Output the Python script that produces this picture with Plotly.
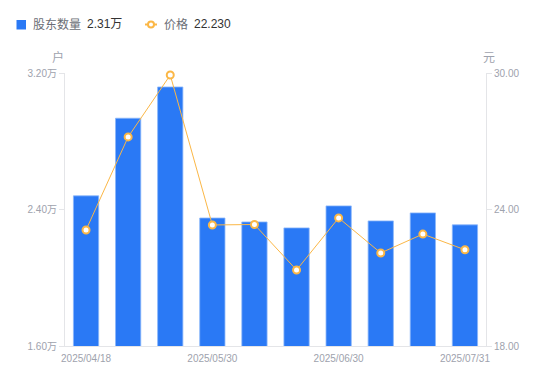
import plotly.graph_objects as go

dates = ["2025/04/18", "2025/04/30", "2025/05/20", "2025/05/30", "2025/06/10",
         "2025/06/20", "2025/06/30", "2025/07/10", "2025/07/20", "2025/07/31"]
holders_wan = [2.48, 2.935, 3.118, 2.35, 2.327, 2.292, 2.421, 2.333, 2.38, 2.31]
price = [23.10, 27.19, 29.91, 23.32, 23.34, 21.34, 23.63, 22.09, 22.92, 22.23]
shown_dates = ["2025/04/18", "2025/05/30", "2025/06/30", "2025/07/31"]
left_ticks = [1.6, 2.4, 3.2]
right_ticks = [18, 24, 30]
series_names = ["股东数量", "价格"]
units = ["户", "元"]

OFF = 8  # default page body margin
W, H = 550 - OFF, 381 - OFF
L, R, T, B = 65, 486, 73, 346  # target page pixel positions of plot area
BLUE = "#2a79f5"
ORANGE = "#fbb746"
GRID = "#e4e5e8"
TICKC = "#9ea2ad"
FONT = "Arial, Liberation Sans, Noto Sans CJK SC, sans-serif"


def px(x):
    return (x - L) / (R - L)


def py(y):
    return (B - y) / (B - T)


fig = go.Figure()
fig.add_trace(go.Bar(
    x=dates, y=holders_wan, width=0.6, marker=dict(color=BLUE, line=dict(color="#8ab6fa", width=0.8)),
    yaxis="y", name=series_names[0], showlegend=False))
fig.add_trace(go.Scatter(
    x=dates, y=price, yaxis="y2", mode="lines+markers", name=series_names[1], showlegend=False,
    cliponaxis=False,
    line=dict(color=ORANGE, width=1),
    marker=dict(size=7, color="white", line=dict(color=ORANGE, width=2))))

fig.update_layout(
    width=W, height=H,
    margin=dict(l=L - OFF, r=550 - R, t=T - OFF, b=381 - B, pad=0),
    plot_bgcolor="white", paper_bgcolor="white",
    font=dict(family=FONT, size=10, color=TICKC),
    xaxis=dict(type="category", tickvals=shown_dates, ticktext=shown_dates,
               showline=True, linecolor=GRID, linewidth=1, ticks="", showgrid=False,
               ticklabelstandoff=3,
               tickfont=dict(size=10, color=TICKC), range=[-0.5, len(dates) - 0.5]),
    yaxis=dict(range=[left_ticks[0], left_ticks[-1]], tickvals=left_ticks,
               ticktext=[f"{v:.2f}万" for v in left_ticks], showgrid=False,
               showline=True, linecolor=GRID, linewidth=1, ticks="outside", ticklen=5,
               tickcolor=GRID, tickfont=dict(size=10, color=TICKC), zeroline=False),
    yaxis2=dict(range=[right_ticks[0], right_ticks[-1]], tickvals=right_ticks,
                ticktext=[f"{v:.2f}" for v in right_ticks], overlaying="y", side="right",
                showgrid=False, showline=True, linecolor=GRID, linewidth=1, ticks="outside",
                ticklen=5, tickcolor=GRID, tickfont=dict(size=10, color=TICKC), zeroline=False),
)

# axis unit titles
fig.add_annotation(x=px(58), y=py(57), xref="paper", yref="paper", text=units[0], showarrow=False,
                   font=dict(size=12, color=TICKC), xanchor="center", yanchor="middle")
fig.add_annotation(x=px(489), y=py(58), xref="paper", yref="paper", text=units[1], showarrow=False,
                   font=dict(size=12, color=TICKC), xanchor="center", yanchor="middle")

# custom legend
ly = 24.5
fig.add_shape(type="rect", xref="paper", yref="paper", x0=px(16.5), x1=px(26), y0=py(20), y1=py(29.5),
              fillcolor=BLUE, line=dict(width=0))
fig.add_annotation(x=px(31), y=py(ly), xref="paper", yref="paper", showarrow=False, xanchor="left",
                   yanchor="middle", text=series_names[0], font=dict(size=12, color="#6b6e76"))
fig.add_annotation(x=px(85), y=py(ly), xref="paper", yref="paper", showarrow=False, xanchor="left",
                   yanchor="middle", text=f"{holders_wan[-1]:.2f}万", font=dict(size=12, color="#333333"))
fig.add_shape(type="line", xref="paper", yref="paper", x0=px(145), x1=px(157), y0=py(ly), y1=py(ly),
              line=dict(color=ORANGE, width=2))
fig.add_shape(type="circle", xref="paper", yref="paper", x0=px(148), x1=px(154), y0=py(ly - 3), y1=py(ly + 3),
              fillcolor="white", line=dict(color=ORANGE, width=2))
fig.add_annotation(x=px(162), y=py(ly), xref="paper", yref="paper", showarrow=False, xanchor="left",
                   yanchor="middle", text=series_names[1], font=dict(size=12, color="#6b6e76"))
fig.add_annotation(x=px(192), y=py(ly), xref="paper", yref="paper", showarrow=False, xanchor="left",
                   yanchor="middle", text=f"{price[-1]:.3f}", font=dict(size=12, color="#333333"))

fig.write_html("out.html")
